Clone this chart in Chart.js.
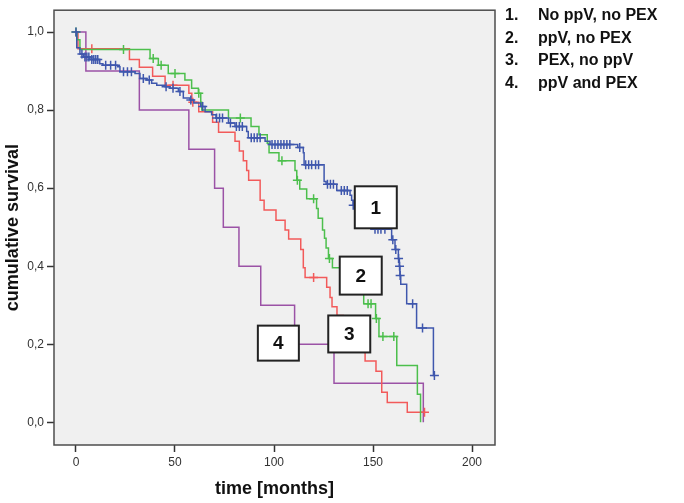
<!DOCTYPE html>
<html>
<head>
<meta charset="utf-8">
<script src="https://cdn.jsdelivr.net/npm/chart.js@4.4.1/dist/chart.umd.min.js"></script>
<style>
  html, body { margin: 0; padding: 0; background: #fff; }
  #wrap { position: relative; width: 684px; height: 503px; }
  #legend { position: absolute; left: 505px; top: 4px; font: bold 16px Arial, "Liberation Sans", sans-serif; color: #111; }
  #legend div { height: 22.5px; line-height: 22.5px; white-space: nowrap; }
  #legend span { display: inline-block; width: 33px; }
</style>
</head>
<body>
<div id="wrap">
  <canvas id="km" width="684" height="503" style="width:684px;height:503px"></canvas>
  <div id="legend"></div>
</div>
<script>
// groups
const groupNames = ['No ppV, no PEX', 'ppV, no PEX', 'PEX, no ppV', 'ppV and PEX'];
const groupColors = ['#3f57ad', '#4cbf4c', '#f25a5a', '#9b52a6'];

// group 1: no ppV, no PEX
const timesG1 = [0, 0.4, 2, 3.7, 7, 12, 13.6, 21, 22.2, 29.8, 32.3, 35.7, 38.2, 40.8, 45, 47.5, 51.7, 54.2, 57.6, 59.5,
  63, 65.2, 68.5, 70.7, 77, 80.3, 86.2, 87, 95.5, 98, 112, 114.8, 115.2, 125.3, 126.3, 131.7, 138.4, 139.2, 140, 143,
  146, 149, 159.4, 161.1, 162.8, 163.3, 163.6, 164, 167, 172, 180.5, 181];
const survG1 = [1.0, 0.96, 0.944, 0.936, 0.93, 0.919, 0.915, 0.911, 0.898, 0.894, 0.881, 0.877, 0.869, 0.864, 0.86, 0.856, 0.848, 0.831, 0.826, 0.818,
  0.809, 0.796, 0.788, 0.78, 0.767, 0.758, 0.745, 0.729, 0.72, 0.712, 0.704, 0.691, 0.66, 0.617, 0.61, 0.594, 0.582, 0.569, 0.556, 0.535,
  0.515, 0.495, 0.468, 0.443, 0.42, 0.4, 0.376, 0.354, 0.304, 0.242, 0.12, 0.12];
const censorG1 = [0, 3, 4.5, 5.5, 6.5, 8, 9, 10, 11, 15, 17.5, 20, 24, 26, 28, 34, 37, 45.5, 49, 52.5, 58, 64, 71, 72.5, 74,
  78, 81, 82.5, 84, 88.5, 90, 91.5, 93, 99, 100.5, 102, 103.5, 105, 106.5, 108, 113, 116, 117.5, 119, 121, 122.5,
  127, 128.5, 130, 134, 135.5, 137, 140, 151, 152.5, 154, 156, 160, 161.5, 162.9, 163.4, 163.7, 170, 175, 181];

// group 2: ppV, no PEX
const timesG2 = [0, 0.5, 2, 37.4, 41.6, 46.6, 55, 58.4, 61.8, 63, 63.5, 77, 88.4, 92.4, 96.6, 97.5, 102.5, 110.6, 111.5, 113,
  116.5, 121.5, 122.3, 124.5, 125.5, 126.3, 127.5, 129.5, 138, 142, 145.3, 151.3, 153, 162, 172.4, 174];
const survG2 = [1.0, 0.98, 0.955, 0.932, 0.915, 0.894, 0.877, 0.856, 0.843, 0.82, 0.8, 0.78, 0.758, 0.737, 0.715, 0.691, 0.67, 0.645, 0.62, 0.598,
  0.573, 0.548, 0.523, 0.493, 0.472, 0.447, 0.42, 0.396, 0.37, 0.35, 0.304, 0.266, 0.22, 0.146, 0.072, 0];
const censorG2 = [0, 24, 39, 43, 50, 62, 83, 104, 111.8, 120, 128, 147.5, 149, 151.7, 155, 160.5];

// group 3: PEX, no ppV
const timesG3 = [0, 1, 27, 32, 38.7, 45, 57, 58.5, 62, 69, 72, 80.3, 82.5, 84.5, 86.2, 87.2, 93, 95, 101, 105.6,
  107.4, 113.5, 114.8, 115.7, 126.6, 128.3, 129.3, 131.8, 135, 140, 144, 146, 151.5, 154.4, 157.2, 167.3, 176];
const survG3 = [1.0, 0.957, 0.93, 0.91, 0.887, 0.864, 0.843, 0.82, 0.796, 0.769, 0.743, 0.72, 0.695, 0.67, 0.645, 0.62, 0.569, 0.544, 0.518, 0.493,
  0.47, 0.443, 0.396, 0.371, 0.346, 0.32, 0.296, 0.274, 0.25, 0.22, 0.18, 0.157, 0.131, 0.077, 0.051, 0.026, 0.026];
const censorG3 = [8, 49, 59, 120, 176];

// group 4: ppV and PEX
const timesG4 = [0, 5, 32, 57, 70, 74.4, 82.3, 93.3, 110.4, 130.3, 175.4];
const survG4 = [1.0, 0.9, 0.8, 0.7, 0.6, 0.5, 0.4, 0.3, 0.2, 0.1, 0];
const censorG4 = [];

const xTicks = [0, 50, 100, 150, 200];
const yTicks = [0, 0.2, 0.4, 0.6, 0.8, 1.0];

// value of a step curve at time t
function survAt(times, surv, t) {
  let v = surv[0];
  for (let i = 0; i < times.length; i++) {
    if (times[i] <= t) v = surv[i];
  }
  return v;
}

const curves = [
  [timesG1, survG1, censorG1],
  [timesG2, survG2, censorG2],
  [timesG3, survG3, censorG3],
  [timesG4, survG4, censorG4]
];

const datasets = [];
curves.forEach(function(c, i) {
  datasets.push({
    label: groupNames[i],
    data: c[0].map(function(t, k) { return {x: t, y: c[1][k]}; }),
    showLine: true,
    stepped: true,
    borderColor: groupColors[i],
    borderWidth: 1.5,
    pointRadius: 0,
    fill: false
  });
  datasets.push({
    label: groupNames[i] + ' censored',
    data: c[2].map(function(t) { return {x: t, y: survAt(c[0], c[1], t)}; }),
    showLine: false,
    pointStyle: 'cross',
    pointRadius: 4.5,
    borderColor: groupColors[i],
    borderWidth: 1.5
  });
});

// legend on the right
const legendEl = document.getElementById('legend');
groupNames.forEach(function(n, i) {
  const row = document.createElement('div');
  row.innerHTML = '<span>' + (i + 1) + '.</span>' + n;
  legendEl.appendChild(row);
});

const plotBox = {
  id: 'plotBox',
  beforeDatasetsDraw: function(chart) {
    const a = chart.chartArea, ctx = chart.ctx;
    ctx.save();
    ctx.fillStyle = '#f0f0f0';
    ctx.fillRect(a.left, a.top, a.right - a.left, a.bottom - a.top);
    ctx.restore();
  },
  afterDatasetsDraw: function(chart, args, opts) {
    const a = chart.chartArea, ctx = chart.ctx;
    const xs = chart.scales.x, ys = chart.scales.y;
    ctx.save();
    ctx.strokeStyle = '#4d4d4d';
    ctx.lineWidth = 1.5;
    ctx.strokeRect(a.left, a.top, a.right - a.left, a.bottom - a.top);
    // group number boxes
    opts.labels.forEach(function(l) {
      const cx = xs.getPixelForValue(l.t), cy = ys.getPixelForValue(l.v);
      ctx.fillStyle = '#fff';
      ctx.fillRect(cx - l.w / 2, cy - l.h / 2, l.w, l.h);
      ctx.strokeStyle = '#222';
      ctx.lineWidth = 2;
      ctx.strokeRect(cx - l.w / 2, cy - l.h / 2, l.w, l.h);
      ctx.fillStyle = '#111';
      ctx.font = 'bold 19px Arial, "Liberation Sans", sans-serif';
      ctx.textAlign = 'center';
      ctx.textBaseline = 'middle';
      ctx.fillText(l.text, cx, cy + 1);
    });
    ctx.restore();
  }
};

const fontFam = 'Arial, "Liberation Sans", sans-serif';

new Chart(document.getElementById('km'), {
  type: 'scatter',
  data: { datasets: datasets },
  plugins: [plotBox],
  options: {
    responsive: false,
    animation: false,
    layout: { padding: { top: 4, right: 189, left: 0, bottom: 0 } },
    plugins: {
      legend: { display: false },
      tooltip: { enabled: false },
      plotBox: {
        labels: [
          { text: '1', t: 151.4, v: 0.551, w: 42, h: 42 },
          { text: '2', t: 143.8, v: 0.376, w: 42, h: 38 },
          { text: '3', t: 138, v: 0.2265, w: 42, h: 37 },
          { text: '4', t: 102.2, v: 0.203, w: 41, h: 35 }
        ]
      }
    },
    scales: {
      x: {
        type: 'linear',
        min: -11.1,
        max: 211.6,
        afterFit: function(s) { s.height = 58; },
        afterBuildTicks: function(s) { s.ticks = xTicks.map(function(v) { return {value: v}; }); },
        grid: { drawOnChartArea: false, drawTicks: true, tickLength: 7, tickWidth: 1.5, tickColor: '#333' },
        border: { display: false },
        ticks: {
          color: '#333',
          font: { family: fontFam, size: 12 },
          padding: 3,
          callback: function(v) { return String(v); }
        },
        title: {
          display: true,
          text: 'time [months]',
          color: '#111',
          font: { family: fontFam, size: 18, weight: 'bold' },
          padding: { top: 0, bottom: 3 }
        }
      },
      y: {
        type: 'linear',
        min: -0.058,
        max: 1.056,
        afterFit: function(s) { s.width = 54; },
        afterBuildTicks: function(s) { s.ticks = yTicks.map(function(v) { return {value: v}; }); },
        grid: { drawOnChartArea: false, drawTicks: true, tickLength: 7, tickWidth: 1.5, tickColor: '#333' },
        border: { display: false },
        ticks: {
          color: '#333',
          font: { family: fontFam, size: 12 },
          padding: 3,
          callback: function(v) { return v.toFixed(1).replace('.', ','); }
        },
        title: {
          display: true,
          text: 'cumulative survival',
          color: '#111',
          font: { family: fontFam, size: 18, weight: 'bold' },
          padding: { top: 2, bottom: 0 }
        }
      }
    }
  }
});
</script>
</body>
</html>
